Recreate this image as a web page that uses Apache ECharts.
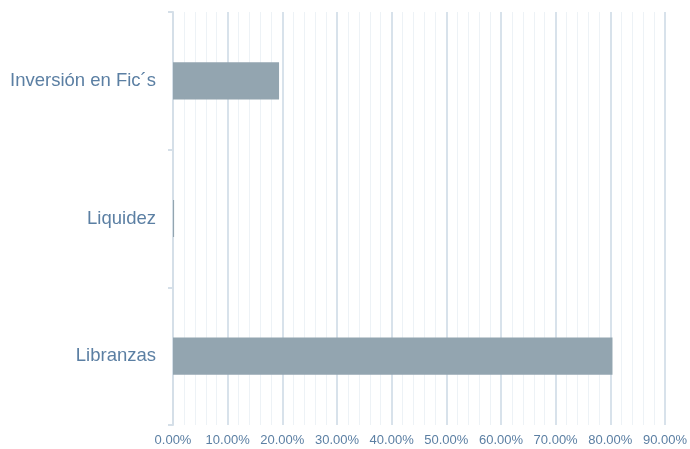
<!DOCTYPE html>
<html>
<head>
<meta charset="utf-8">
<script src="https://cdn.jsdelivr.net/npm/echarts@6/dist/echarts.min.js"></script>
<style>
html,body{margin:0;padding:0;background:#fff;}
#chart{width:690px;height:449px;}
</style>
</head>
<body>
<div id="chart"></div>
<script>
const categories = ['Libranzas', 'Liquidez', 'Inversión en Fic´s'];
const shares = [80.4, 0.2, 19.4];
const xTickValues = [0, 10, 20, 30, 40, 50, 60, 70, 80, 90];

const chart = echarts.init(document.getElementById('chart'));
chart.setOption({
  animation: false,
  grid: { left: 173, right: 22, top: 12, bottom: 24, containLabel: false },
  xAxis: {
    type: 'value',
    min: xTickValues[0],
    max: xTickValues[xTickValues.length - 1],
    interval: 10,
    axisLine: { show: false },
    axisTick: { show: false },
    axisLabel: {
      color: '#5b7fa3',
      fontFamily: 'Liberation Sans, Arial, sans-serif',
      fontSize: 13,
      margin: 9,
      formatter: v => v.toFixed(2) + '%'
    },
    splitLine: { show: true, lineStyle: { color: '#d8e2eb', width: 2 } },
    minorTick: { show: false, splitNumber: 5 },
    minorSplitLine: { show: true, lineStyle: { color: '#edf2f6', width: 1 } }
  },
  yAxis: {
    type: 'category',
    data: categories,
    boundaryGap: true,
    axisLine: { show: true, lineStyle: { color: '#d5dfe8', width: 2 } },
    axisTick: { show: true, length: 5, lineStyle: { color: '#d5dfe8', width: 2 } },
    axisLabel: {
      color: '#5b7fa3',
      fontFamily: 'Liberation Sans, Arial, sans-serif',
      fontSize: 18.5,
      margin: 17
    },
    splitLine: { show: false }
  },
  series: [{
    type: 'bar',
    data: shares,
    barWidth: '27%',
    itemStyle: { color: '#93a5b0' }
  }]
});
</script>
</body>
</html>
